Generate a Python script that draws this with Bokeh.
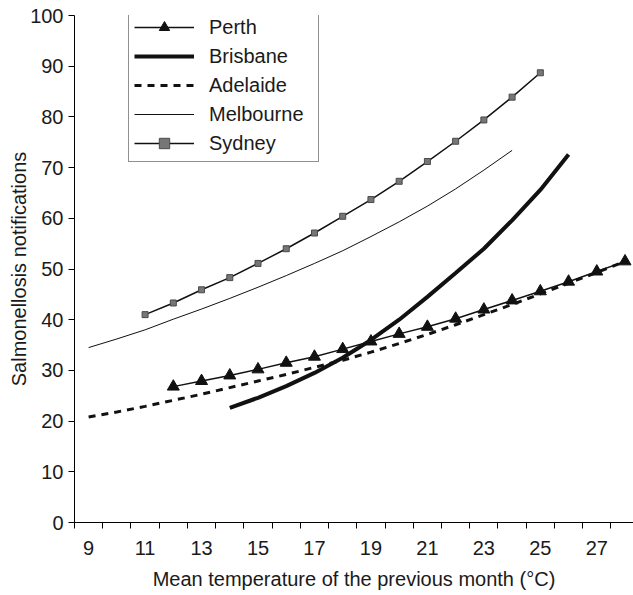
from bokeh.plotting import figure
from bokeh.models import FixedTicker, Legend, LegendItem, Range1d
from bokeh.embed import file_html
from bokeh.resources import INLINE

# ---- data ----
perth_x = [12, 13, 14, 15, 16, 17, 18, 19, 20, 21, 22, 23, 24, 25, 26, 27, 28]
perth_y = [26.8, 27.9, 29.0, 30.2, 31.5, 32.7, 34.2, 35.7, 37.2, 38.6, 40.2, 42.0, 43.8, 45.6, 47.5, 49.5, 51.5]

brisbane_x = [14, 15, 16, 17, 18, 19, 20, 21, 22, 23, 24, 25, 26]
brisbane_y = [22.6, 24.6, 26.9, 29.5, 32.5, 36.0, 40.0, 44.5, 49.2, 54.0, 59.6, 65.6, 72.6]

adelaide_x = [9, 10, 11, 12, 13, 14, 15, 16, 17, 18, 19, 20, 21, 22, 23, 24, 25, 26, 27, 28]
adelaide_y = [20.8, 21.8, 22.9, 24.1, 25.3, 26.6, 27.9, 29.2, 30.6, 32.0, 33.6, 35.3, 37.1, 39.0, 41.0, 43.0, 45.1, 47.2, 49.3, 51.5]

melbourne_x = [9, 10, 11, 12, 13, 14, 15, 16, 17, 18, 19, 20, 21, 22, 23, 24]
melbourne_y = [34.5, 36.2, 38.0, 40.1, 42.1, 44.2, 46.4, 48.7, 51.1, 53.6, 56.4, 59.3, 62.4, 65.8, 69.5, 73.4]

sydney_x = [11, 12, 13, 14, 15, 16, 17, 18, 19, 20, 21, 22, 23, 24, 25]
sydney_y = [41.0, 43.3, 45.9, 48.3, 51.1, 54.0, 57.1, 60.4, 63.7, 67.3, 71.2, 75.2, 79.4, 83.9, 88.7]

x_tick_labels = [9, 11, 13, 15, 17, 19, 21, 23, 25, 27]
x_tick_marks = [8.5, 9.5, 10.5, 11.5, 12.5, 13.5, 14.5, 15.5, 16.5, 17.5, 18.5, 19.5,
                20.5, 21.5, 22.5, 23.5, 24.5, 25.5, 26.5, 27.5, 28.5]
y_ticks = [0, 10, 20, 30, 40, 50, 60, 70, 80, 90, 100]

FONT = "Liberation Sans"
TXT = "#1a1a1a"

p = figure(width=633, height=595, output_backend="svg", toolbar_location=None,
           x_range=Range1d(8.5, 28.3), y_range=Range1d(0, 100),
           min_border_left=74, min_border_right=0, min_border_top=15, min_border_bottom=73,
           background_fill_color="white", border_fill_color="white")
p.outline_line_color = None
p.grid.visible = False

# x axis
p.xaxis.ticker = FixedTicker(ticks=x_tick_labels, minor_ticks=x_tick_marks)
p.xaxis.major_tick_out = 0
p.xaxis.major_tick_in = 0
p.xaxis.minor_tick_out = 6
p.xaxis.minor_tick_in = 0
p.xaxis.minor_tick_line_color = "black"
p.xaxis.major_label_standoff = 12
p.xaxis.axis_label = "Mean temperature of the previous month (\u00b0C)"
p.xaxis.axis_label_standoff = 10

# y axis
p.yaxis.ticker = FixedTicker(ticks=y_ticks)
p.yaxis.major_tick_out = 6
p.yaxis.major_tick_in = 0
p.yaxis.minor_tick_out = 0
p.yaxis.minor_tick_in = 0
p.yaxis.major_label_standoff = 5
p.yaxis.axis_label = "Salmonellosis notifications"
p.yaxis.axis_label_standoff = -3

for ax in (p.xaxis, p.yaxis):
    ax.axis_line_color = "black"
    ax.axis_line_width = 1
    ax.major_tick_line_color = "black"
    ax.major_label_text_font = FONT
    ax.major_label_text_font_size = "20px"
    ax.major_label_text_color = TXT
    ax.axis_label_text_font = FONT
    ax.axis_label_text_font_size = "20px"
    ax.axis_label_text_font_style = "normal"
    ax.axis_label_text_color = TXT

# series
perth_l = p.line(perth_x, perth_y, line_color="#111111", line_width=1.5)
perth_m = p.scatter(perth_x, perth_y, marker="triangle", size=12,
                    fill_color="#111111", line_color="#111111")

bris_l = p.line(brisbane_x, brisbane_y, line_color="#111111", line_width=4)

adel_l = p.line(adelaide_x, adelaide_y, line_color="#111111", line_width=3, line_dash="7 6")

melb_l = p.line(melbourne_x, melbourne_y, line_color="#111111", line_width=1)

syd_l = p.line(sydney_x, sydney_y, line_color="#111111", line_width=1.5)
syd_m = p.scatter(sydney_x, sydney_y, marker="square", size=6,
                  fill_color="#767676", line_color="#4a4a4a", line_width=1)

legend = Legend(items=[
    LegendItem(label="Perth", renderers=[perth_l, perth_m]),
    LegendItem(label="Brisbane", renderers=[bris_l]),
    LegendItem(label="Adelaide", renderers=[adel_l]),
    LegendItem(label="Melbourne", renderers=[melb_l]),
    LegendItem(label="Sydney", renderers=[syd_l, syd_m]),
], location=(54, 360))
legend.margin = 0
legend.padding = 5
legend.spacing = 3
legend.label_height = 26
legend.glyph_height = 26
legend.glyph_width = 60
legend.label_width = 104
legend.label_standoff = 15
legend.label_text_font = FONT
legend.label_text_font_size = "20px"
legend.label_text_color = TXT
legend.border_line_color = "#222222"
legend.border_line_width = 1
legend.background_fill_color = "white"
legend.background_fill_alpha = 1
p.add_layout(legend, "center")

open("out.html", "w").write(file_html(p, INLINE))
